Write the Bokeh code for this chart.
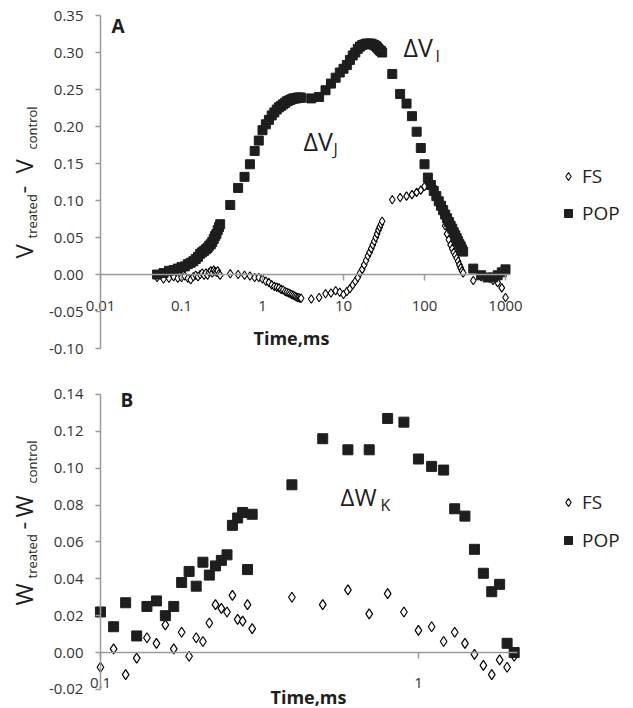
from bokeh.plotting import figure
from bokeh.models import Range1d, FixedTicker, NumeralTickFormatter, Label
from bokeh.layouts import column
from bokeh.embed import file_html
from bokeh.resources import INLINE
from bokeh.core.properties import value

FONT = "Open Sans"
AXIS_GRAY = "#9a9a9a"
TICK_TEXT = "#333333"
INK = "#1e1e1e"

# ---------------- Panel A data (time in ms, delta V) ----------------
T_A = [0.05, 0.06, 0.07, 0.08, 0.09, 0.10, 0.11, 0.12, 0.13, 0.14, 0.15, 0.16, 0.17,
       0.18, 0.19, 0.20, 0.21, 0.22, 0.23, 0.24, 0.25, 0.26, 0.27, 0.28, 0.29, 0.30,
       0.4, 0.5, 0.6, 0.7, 0.8, 0.9, 1.0, 1.1, 1.2, 1.3, 1.4, 1.5, 1.6, 1.7, 1.8, 1.9,
       2.0, 2.1, 2.2, 2.3, 2.4, 2.5, 2.6, 2.7, 2.8, 2.9, 3.0,
       4, 5, 6, 7, 8, 9, 10, 11, 12, 13, 14, 15, 16, 17, 18, 19, 20, 21, 22, 23, 24,
       25, 26, 27, 28, 29, 30,
       40, 50, 60, 70, 80, 90, 100, 110, 120, 130, 140, 150, 160, 170, 180, 190, 200,
       210, 220, 230, 240, 250, 260, 270, 280, 290, 300,
       400, 500, 600, 700, 800, 900, 1000]

POP_A = [0.000, 0.002, 0.005, 0.006, 0.008, 0.010, 0.011, 0.014, 0.016, 0.018, 0.021,
         0.024, 0.028, 0.030, 0.032, 0.034, 0.036, 0.039, 0.041, 0.044, 0.048, 0.052,
         0.055, 0.060, 0.064, 0.068,
         0.094, 0.117, 0.132, 0.149, 0.167, 0.181, 0.195, 0.203, 0.209, 0.215, 0.219,
         0.223, 0.226, 0.228, 0.230, 0.232, 0.234, 0.235, 0.236, 0.237, 0.238, 0.238,
         0.238, 0.239, 0.239, 0.239, 0.239,
         0.238, 0.240, 0.249, 0.258, 0.266, 0.273, 0.278, 0.283, 0.290, 0.296, 0.300,
         0.305, 0.308, 0.310, 0.311, 0.312, 0.312, 0.312, 0.312, 0.311, 0.310, 0.309,
         0.307, 0.305, 0.303, 0.302, 0.300,
         0.271, 0.244, 0.231, 0.214, 0.193, 0.171, 0.149, 0.131, 0.121, 0.113, 0.106,
         0.099, 0.093, 0.087, 0.081, 0.076, 0.071, 0.066, 0.062, 0.057, 0.053, 0.049,
         0.045, 0.041, 0.038, 0.034, 0.031,
         0.008, -0.001, -0.004, -0.004, -0.001, 0.003, 0.007]

FS_A = [-0.004, -0.006, -0.005, -0.003, -0.005, -0.004, -0.002, -0.005, -0.007, -0.003,
        -0.001, -0.003, 0.000, 0.002, -0.001, 0.002, -0.001, 0.003, 0.005, 0.002, 0.006,
        0.004, 0.003, 0.005, 0.001, -0.001,
        0.001, 0.000, -0.001, -0.002, -0.004, -0.004, -0.006, -0.009, -0.011, -0.014,
        -0.016, -0.017, -0.018, -0.020, -0.021, -0.023, -0.024, -0.025, -0.026, -0.027,
        -0.028, -0.029, -0.030, -0.031, -0.031, -0.032, -0.032,
        -0.033, -0.031, -0.026, -0.025, -0.022, -0.024, -0.027, -0.023, -0.019, -0.014,
        -0.009, -0.004, 0.002, 0.007, 0.013, 0.019, 0.025, 0.030, 0.035, 0.040, 0.045,
        0.050, 0.055, 0.060, 0.064, 0.068, 0.072,
        0.101, 0.104, 0.106, 0.108, 0.111, 0.114, 0.119, 0.124, 0.125, 0.119, 0.110,
        0.100, 0.090, 0.080, 0.066, 0.055, 0.047, 0.040, 0.035, 0.030, 0.026, 0.022,
        0.018, 0.013, 0.009, 0.005, 0.002,
        -0.008, -0.003, -0.004, -0.008, -0.011, -0.018, -0.031]

A_YTICKS = [-0.10, -0.05, 0.00, 0.05, 0.10, 0.15, 0.20, 0.25, 0.30, 0.35]
A_XTICKS = [0.01, 0.1, 1, 10, 100, 1000]
A_XTICK_LABELS = ["0.01", "0.1", "1", "10", "100", "1000"]

# ---------------- Panel B data (time in ms, delta W) ----------------
T_B = [0.10, 0.11, 0.12, 0.13, 0.14, 0.15, 0.16, 0.17, 0.18, 0.19, 0.20, 0.21, 0.22,
       0.23, 0.24, 0.25, 0.26, 0.27, 0.28, 0.29, 0.30,
       0.4, 0.5, 0.6, 0.7, 0.8, 0.9, 1.0, 1.1, 1.2, 1.3, 1.4, 1.5, 1.6, 1.7, 1.8, 1.9, 2.0]

POP_B = [0.022, 0.014, 0.027, 0.009, 0.025, 0.028, 0.020, 0.025, 0.038, 0.044, 0.036,
         0.049, 0.042, 0.047, 0.050, 0.053, 0.069, 0.073, 0.076, 0.045, 0.075,
         0.091, 0.116, 0.110, 0.110, 0.127, 0.125, 0.105, 0.101, 0.099, 0.078, 0.074,
         0.056, 0.043, 0.033, 0.037, 0.005, 0.000]

FS_B = [-0.008, 0.002, -0.012, -0.003, 0.008, 0.005, 0.015, 0.002, 0.011, -0.002, 0.008,
        0.006, 0.016, 0.026, 0.024, 0.022, 0.031, 0.018, 0.017, 0.026, 0.013,
        0.030, 0.026, 0.034, 0.021, 0.032, 0.022, 0.012, 0.014, 0.006, 0.011, 0.005,
        -0.001, -0.007, -0.012, -0.004, -0.008, -0.002]

B_YTICKS = [-0.02, 0.00, 0.02, 0.04, 0.06, 0.08, 0.10, 0.12, 0.14]
B_XTICKS = [0.1, 1]
B_XTICK_LABELS = ["0.1", "1"]

SERIES_NAMES = ["FS", "POP"]


def lab(p, text, x, y, size, bold=False, angle=0, color=INK):
    p.add_layout(Label(x=x, y=y, x_units="screen", y_units="screen", text=text,
                       text_font=FONT, text_font_size=size,
                       text_font_style="bold" if bold else "normal",
                       text_color=color, angle=angle, angle_units="deg",
                       text_align="left", text_baseline="alphabetic"))


def style(p, xticks, xlabels, xbounds, yticks, ybounds, yfix, label_off):
    p.xgrid.visible = False
    p.ygrid.visible = False
    p.outline_line_color = None
    xa = p.xaxis[0]
    xa.fixed_location = 0
    xa.bounds = xbounds
    xa.ticker = FixedTicker(ticks=xticks, minor_ticks=[])
    xa.major_label_text_font_size = "1px"
    xa.major_label_text_alpha = 0
    xa.major_label_standoff = 0
    xa.axis_line_color = AXIS_GRAY
    xa.axis_line_width = 1.5
    xa.major_tick_line_color = AXIS_GRAY
    xa.major_tick_line_width = 1.5
    xa.major_tick_out = 6
    xa.major_tick_in = 0
    xa.minor_tick_line_color = None
    ya = p.yaxis[0]
    ya.fixed_location = yfix
    ya.bounds = ybounds
    ya.ticker = FixedTicker(ticks=yticks, minor_ticks=[])
    ya.formatter = NumeralTickFormatter(format="0.00")
    ya.axis_line_color = AXIS_GRAY
    ya.axis_line_width = 1.5
    ya.major_tick_line_color = AXIS_GRAY
    ya.major_tick_line_width = 1.5
    ya.major_tick_out = 5
    ya.major_tick_in = 0
    ya.minor_tick_line_color = None
    ya.major_label_text_font = FONT
    ya.major_label_text_font_size = "15px"
    ya.major_label_text_color = TICK_TEXT
    ya.major_label_standoff = 12
    p.text(x=xticks, y=[0] * len(xticks), text=xlabels, y_offset=label_off,
           text_align="center", text_baseline="middle", text_font=value(FONT),
           text_font_size="15px", text_color=TICK_TEXT)


def frame_only(p):
    p.min_border_left = 0
    p.min_border_right = 0
    p.min_border_top = 0
    p.min_border_bottom = 0


# ---------------- Figure A ----------------
pA = figure(x_axis_type="log", x_range=Range1d(0.000583, 38020),
            y_range=Range1d(-0.1405, 0.3703), frame_width=633, frame_height=378,
            output_backend="svg", toolbar_location=None)
frame_only(pA)
style(pA, A_XTICKS, A_XTICK_LABELS, (0.01, 1150), A_YTICKS, (-0.10, 0.35), 0.01, 31)
pA.scatter(T_A, FS_A, marker="diamond", size=8.5, fill_color="white",
           line_color="black", line_width=1.1, legend_label=SERIES_NAMES[0])
pA.scatter(T_A, POP_A, marker="square", size=9, fill_color=INK,
           line_color=INK, legend_label=SERIES_NAMES[1])

lab(pA, "A", 111, 353, "19px", bold=True)
lab(pA, "ΔV", 403, 332, "25px")
lab(pA, "I", 435, 323, "16px")
lab(pA, "ΔV", 303, 238, "25px")
lab(pA, "J", 333, 230, "16px")
lab(pA, "Time,ms", 253, 41, "18px", bold=True)
lab(pA, "V", 23, 120, "24px", angle=90)
lab(pA, "treated", 31, 140, "13px", angle=90)
lab(pA, "-", 23, 185, "24px", angle=90)
lab(pA, "V", 23, 205, "24px", angle=90)
lab(pA, "control", 31, 229, "13px", angle=90)

# ---------------- Figure B ----------------
pB = figure(x_axis_type="log", x_range=Range1d(0.04849, 4.745),
            y_range=Range1d(-0.03037, 0.14868), frame_width=633, frame_height=330,
            output_backend="svg", toolbar_location=None)
frame_only(pB)
style(pB, B_XTICKS, B_XTICK_LABELS, (0.1, 2.05), B_YTICKS, (-0.02, 0.14), 0.1, 30)
pB.scatter(T_B, FS_B, marker="diamond", size=10, fill_color="white",
           line_color="black", line_width=1.2, legend_label=SERIES_NAMES[0])
pB.scatter(T_B, POP_B, marker="square", size=10, fill_color=INK,
           line_color=INK, legend_label=SERIES_NAMES[1])

lab(pB, "B", 120, 309, "19px", bold=True)
lab(pB, "ΔW", 340, 212, "24px")
lab(pB, "K", 380, 204, "16px")
lab(pB, "Time,ms", 270, 12, "18px", bold=True)
lab(pB, "W", 23, 103, "24px", angle=90)
lab(pB, "treated", 31, 130, "13px", angle=90)
lab(pB, "-", 23, 179, "24px", angle=90)
lab(pB, "W", 23, 191, "24px", angle=90)
lab(pB, "control", 31, 225, "13px", angle=90)

for p, loc, sp in ((pA, (558, 152), 11), (pB, (558, 155), 12)):
    lg = p.legend[0]
    lg.location = loc
    lg.border_line_color = None
    lg.background_fill_alpha = 0
    lg.padding = 0
    lg.margin = 0
    lg.spacing = sp
    lg.glyph_width = 20
    lg.glyph_height = 20
    lg.label_height = 20
    lg.label_standoff = 4
    lg.label_text_font = FONT
    lg.label_text_font_size = "19px"
    lg.label_text_color = INK
    lg.label_text_baseline = "middle"

layout = column(pA, pB, spacing=0)
open("out.html", "w").write(file_html(layout, INLINE))
